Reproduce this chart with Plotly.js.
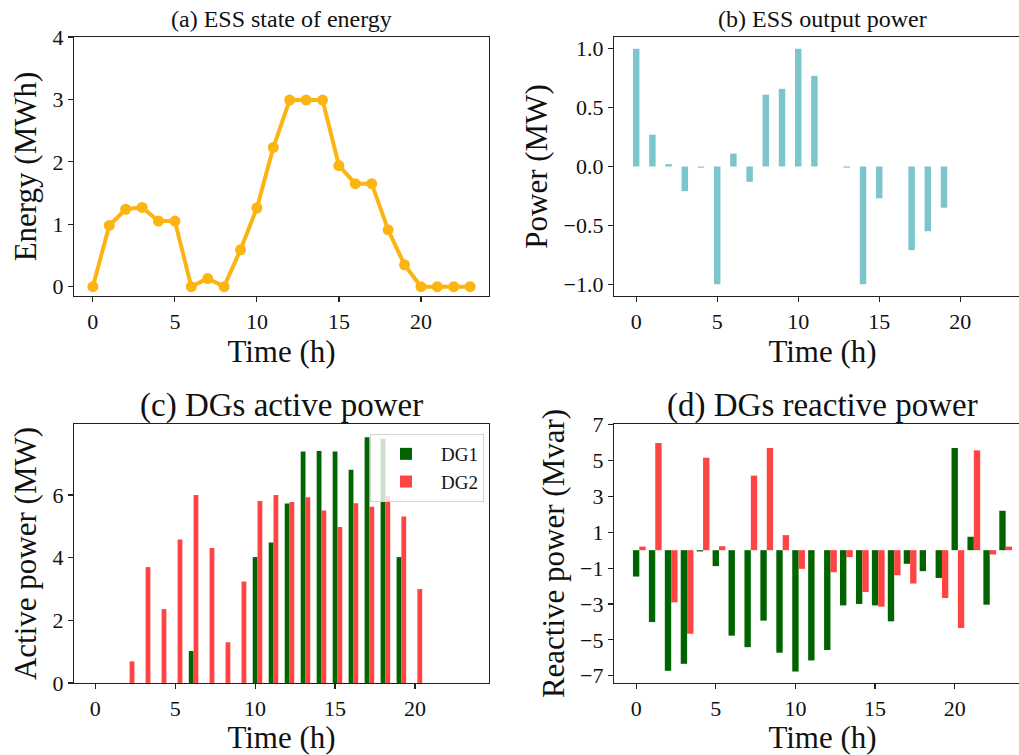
<!DOCTYPE html>
<html>
<head>
<meta charset="utf-8">
<script src="https://cdn.plot.ly/plotly-3.0.1.min.js"></script>
<style>
html, body { margin: 0; padding: 0; overflow: hidden; background: #fff; }
#chart { width: 1040px; height: 755px; }
</style>
</head>
<body>
<div id="chart"></div>
<script>
// ---- data ----
const hours = [0,1,2,3,4,5,6,7,8,9,10,11,12,13,14,15,16,17,18,19,20,21,22,23];
const xTicks = [0,5,10,15,20];

// (a) ESS state of energy (MWh)
const essEnergy = [0,0.98,1.24,1.27,1.05,1.05,0,0.13,0,0.59,1.26,2.23,2.99,2.99,2.99,1.94,1.65,1.65,0.91,0.35,0,0,0,0];
// (b) ESS output power (MW)
const essPower = [1.0,0.27,0.02,-0.21,-0.01,-1.0,0.11,-0.13,0.61,0.66,1.0,0.77,0,-0.01,-1.0,-0.27,0,-0.71,-0.55,-0.35,0,0,0,0];
// (c) DGs active power (MW)
const dg1Active = [0,0,0,0,0,0,1.02,0,0,0,4.02,4.49,5.73,7.39,7.41,7.39,6.81,7.85,7.8,4.02,0,0,0,0];
const dg2Active = [0,0,0.69,3.70,2.36,4.58,6.0,4.31,1.30,3.24,5.81,6.0,5.78,5.93,5.51,4.98,5.74,5.63,5.97,5.32,3.0,0,0,0];
// (d) DGs reactive power (Mvar)
const dg1Reactive = [-1.47,-4.01,-6.73,-6.34,-0.07,-0.89,-4.77,-5.41,-3.93,-5.72,-6.77,-6.15,-5.57,-3.08,-3.0,-3.08,-3.97,-0.76,-1.17,-1.55,5.70,0.75,-3.04,2.20];
const dg2Reactive = [0.2,5.98,-2.91,-4.66,5.16,0.22,0,4.16,5.70,0.84,-1.04,0,-1.23,-0.39,-2.33,-3.15,-1.40,-1.86,0,-2.67,-4.34,5.57,-0.24,0.2];

const yTicksC = [0,2,4,6];
const yTicksD = [-7,-5,-3,-1,1,3,5,7];

// ---- style ----
const W = 1040, H = 755;
const FONT = 'Liberation Serif, Times New Roman, serif';
const GOLD = '#FBB412';
const TEAL = '#7CC5CD';
const GREEN = '#006400';
const RED = '#FF4444';

function px(a, b) { return [a / W, b / W]; }
function py(top, bottom) { return [1 - bottom / H, 1 - top / H]; }

function xAxis(dom, range, anchor, titleText) {
  return {
    domain: dom, range: range, anchor: anchor,
    tickmode: 'array', tickvals: xTicks,
    ticks: 'outside', ticklen: 5, tickwidth: 1.2, tickcolor: '#222',
    showline: true, mirror: true, linecolor: '#222', linewidth: 1.2,
    showgrid: false, zeroline: false,
    tickfont: { family: FONT, size: 22, color: '#111' },
    title: { text: titleText, font: { family: FONT, size: 31, color: '#111' }, standoff: 4 }
  };
}
function yAxis(dom, range, anchor, titleText, extra) {
  return Object.assign({
    domain: dom, range: range, anchor: anchor,
    ticks: 'outside', ticklen: 5, tickwidth: 1.2, tickcolor: '#222',
    showline: true, mirror: true, linecolor: '#222', linewidth: 1.2,
    showgrid: false, zeroline: false,
    tickfont: { family: FONT, size: 22, color: '#111' },
    title: { text: titleText, font: { family: FONT, size: 31, color: '#111' }, standoff: 6 }
  }, extra || {});
}

const traces = [
  {
    type: 'scatter', mode: 'lines+markers', x: hours, y: essEnergy,
    xaxis: 'x', yaxis: 'y',
    line: { color: GOLD, width: 4 }, marker: { color: GOLD, size: 11 },
    showlegend: false
  },
  {
    type: 'bar', x: hours, y: essPower, xaxis: 'x2', yaxis: 'y2',
    width: 0.4, marker: { color: TEAL, line: { width: 0 } }, showlegend: false
  },
  {
    type: 'bar', name: 'DG1', x: hours, y: dg1Active, xaxis: 'x3', yaxis: 'y3',
    width: 0.3, offset: -0.15, marker: { color: GREEN, line: { width: 0 } }
  },
  {
    type: 'bar', name: 'DG2', x: hours, y: dg2Active, xaxis: 'x3', yaxis: 'y3',
    width: 0.3, offset: 0.15, marker: { color: RED, line: { width: 0 } }
  },
  {
    type: 'bar', name: 'DG1', x: hours, y: dg1Reactive, xaxis: 'x4', yaxis: 'y4',
    width: 0.4, offset: -0.2, marker: { color: GREEN, line: { width: 0 } },
    showlegend: false
  },
  {
    type: 'bar', name: 'DG2', x: hours, y: dg2Reactive, xaxis: 'x4', yaxis: 'y4',
    width: 0.4, offset: 0.2, marker: { color: RED, line: { width: 0 } },
    showlegend: false
  }
];

const topRow = py(37, 296);
const botRow = py(424, 683);
const leftCol = px(74, 489);
const rightCol = px(614, 1031);

const layout = {
  width: W, height: H,
  margin: { l: 0, r: 0, t: 0, b: 0 },
  paper_bgcolor: '#fff', plot_bgcolor: '#fff',
  barmode: 'overlay',
  font: { family: FONT, color: '#111' },
  xaxis: xAxis(leftCol, [-1.15, 24.15], 'y', 'Time (h)'),
  yaxis: yAxis(topRow, [-0.15, 4.0], 'x', 'Energy (MWh)', { dtick: 1, tick0: 0 }),
  xaxis2: xAxis(rightCol, [-1.37, 24.37], 'y2', 'Time (h)'),
  yaxis2: yAxis(topRow, [-1.1, 1.1], 'x2', 'Power (MW)', { dtick: 0.5, tick0: 0, tickformat: '.1f' }),
  xaxis3: xAxis(leftCol, [-1.33, 24.63], 'y3', 'Time (h)'),
  yaxis3: yAxis(botRow, [0, 8.27], 'x3', 'Active power (MW)', { tickmode: 'array', tickvals: yTicksC }),
  xaxis4: xAxis(rightCol, [-1.39, 24.79], 'y4', 'Time (h)'),
  yaxis4: yAxis(botRow, [-7.41, 7.04], 'x4', 'Reactive power (Mvar)', { tickmode: 'array', tickvals: yTicksD }),
  legend: {
    x: 370 / W, y: 1 - 434 / H, xanchor: 'left', yanchor: 'top',
    bgcolor: 'rgba(255,255,255,0.8)', bordercolor: '#d4d4d4', borderwidth: 1,
    font: { family: FONT, size: 19, color: '#111' },
    itemwidth: 60, tracegroupgap: 4, entrywidth: 60
  },
  annotations: [
    { text: '(a) ESS state of energy', xref: 'paper', yref: 'paper', x: (74 + 489) / 2 / W, y: 1 - 19 / H,
      xanchor: 'center', yanchor: 'middle', showarrow: false, font: { family: FONT, size: 24, color: '#111' } },
    { text: '(b) ESS output power', xref: 'paper', yref: 'paper', x: (614 + 1031) / 2 / W, y: 1 - 19 / H,
      xanchor: 'center', yanchor: 'middle', showarrow: false, font: { family: FONT, size: 24, color: '#111' } },
    { text: '(c) DGs active power', xref: 'paper', yref: 'paper', x: (74 + 489) / 2 / W, y: 1 - 405 / H,
      xanchor: 'center', yanchor: 'middle', showarrow: false, font: { family: FONT, size: 33, color: '#111' } },
    { text: '(d) DGs reactive power', xref: 'paper', yref: 'paper', x: (614 + 1031) / 2 / W, y: 1 - 405 / H,
      xanchor: 'center', yanchor: 'middle', showarrow: false, font: { family: FONT, size: 33, color: '#111' } }
  ]
};

Plotly.newPlot('chart', traces, layout, { displayModeBar: false, staticPlot: true });
</script>
</body>
</html>
